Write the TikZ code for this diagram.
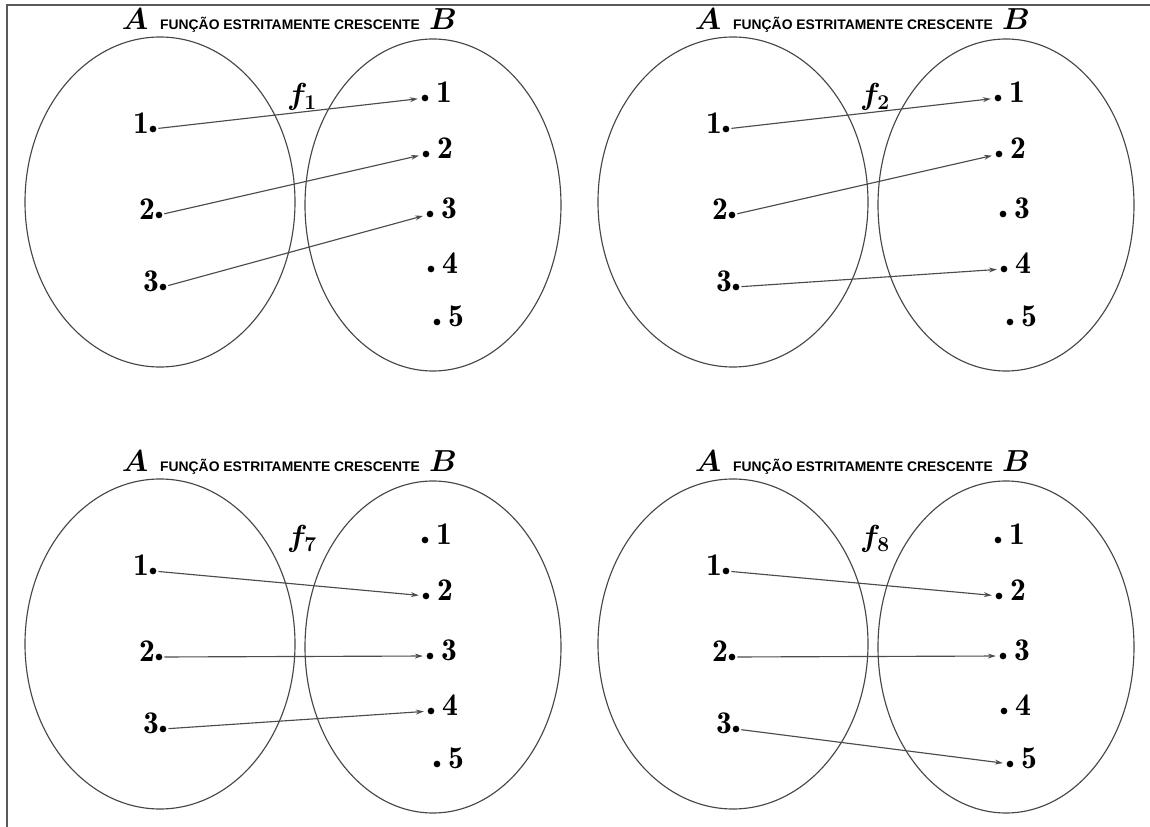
\documentclass[tikz,border=0pt]{standalone}
\usepackage{bm}
\usepackage{fontspec}
\newfontfamily\capfont{Liberation Sans}
\usetikzlibrary{arrows.meta}

\begin{document}
\begin{tikzpicture}[x=0.02cm, y=-0.02cm,
    set/.style={draw=black!72, line width=0.65pt},
    frame/.style={draw=black!65, line width=1.1pt},
    dot/.style={circle, fill=black, inner sep=0pt, minimum size=3.8pt},
    arrow/.style={
        -{Stealth[length=4.5pt, width=2.8pt]}, line width=0.65pt, black!70,
        shorten >=2pt, shorten <=1pt
    },
    elem/.style={font=\fontsize{18}{21}\selectfont, inner sep=0pt},
    setname/.style={font=\fontsize{17}{20}\selectfont, inner sep=0pt},
    caption/.style={font=\capfont\bfseries\fontsize{7.9}{10}\selectfont, inner sep=0pt}
]
\useasboundingbox (0,0) rectangle (1150,827);

\coordinate (corner) at (7,5);
\coordinate (topend) at (1150,5);
\coordinate (leftend) at (7,827);
\draw[frame] (topend) -- (corner) -- (leftend);

% one panel per function: shift, index, images of 1, 2, 3
\foreach \dx/\dy/\k/\ma/\mb/\mc in {0/0/1/1/2/3, 573/0/2/1/2/4, 0/442/7/2/3/4, 573/442/8/2/3/5} {
\begin{scope}[shift={(\dx,\dy)}]
    \draw[set] (160,202) ellipse [x radius=135, y radius=165];
    \draw[set] (433,205) ellipse [x radius=128, y radius=166];

    \node[setname, anchor=base] (nameA\k) at (135,30) {$\bm{A}$};
    \node[caption, anchor=base] (cap\k) at (290,30) {FUNÇÃO ESTRITAMENTE CRESCENTE};
    \node[setname, anchor=base] (nameB\k) at (443,30) {$\bm{B}$};
    \node[elem] (f\k) at (302,97) {$\bm{f_{\k}}$};

    \foreach \n/\x/\y in {1/153/129, 2/159/215, 3/163/287}
        \node[dot, label={[elem, yshift=3.5pt]left:$\mathbf{\n}$}] (a\k-\n) at (\x,\y) {};
    \foreach \n/\x/\y in {1/425/98, 2/426/154, 3/430/214, 4/431/269, 5/437/322}
        \node[dot, label={[elem, yshift=3.5pt, label distance=4pt]right:$\mathbf{\n}$}] (b\k-\n) at (\x,\y) {};

    \draw[arrow] (a\k-1) -- (b\k-\ma);
    \draw[arrow] (a\k-2) -- (b\k-\mb);
    \draw[arrow] (a\k-3) -- (b\k-\mc);
\end{scope}
}

\end{tikzpicture}
\end{document}
